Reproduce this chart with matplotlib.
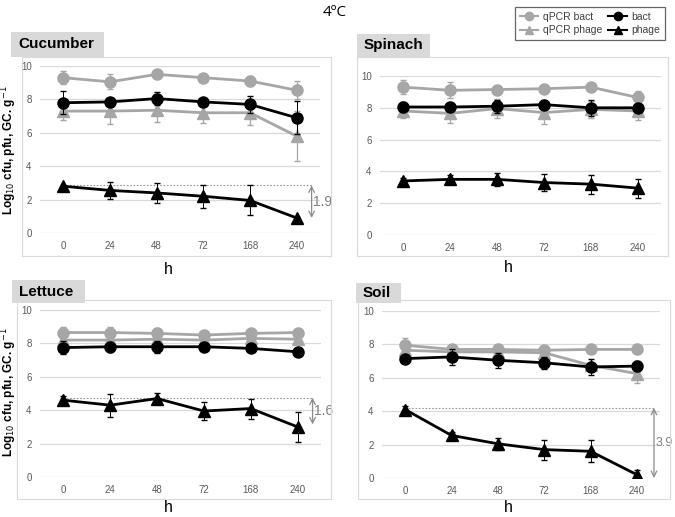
import matplotlib
matplotlib.use("Agg")
import matplotlib.pyplot as plt
from matplotlib.patches import Rectangle
from matplotlib.lines import Line2D

plt.rcParams['font.family'] = ['Liberation Sans', 'DejaVu Sans']

hours = ["0", "24", "48", "72", "168", "240"]
yticks = [0, 2, 4, 6, 8, 10]

# Cucumber
cuc_qbact = [9.3, 9.05, 9.5, 9.3, 9.1, 8.55]
cuc_qbact_err = [0.4, 0.45, 0.1, 0.1, 0.3, 0.55]
cuc_bact = [7.8, 7.85, 8.05, 7.85, 7.7, 6.9]
cuc_bact_err = [0.7, 0.25, 0.4, 0.15, 0.5, 1.0]
cuc_qphage = [7.3, 7.3, 7.35, 7.2, 7.2, 5.8]
cuc_qphage_err = [0.55, 0.8, 0.7, 0.6, 0.75, 1.5]
cuc_phage = [2.8, 2.55, 2.4, 2.2, 1.95, 0.9]
cuc_phage_err = [0.1, 0.5, 0.6, 0.7, 0.9, 0.05]

# Spinach
spi_qbact = [9.3, 9.1, 9.15, 9.2, 9.3, 8.65]
spi_qbact_err = [0.45, 0.5, 0.1, 0.1, 0.1, 0.4]
spi_bact = [8.05, 8.05, 8.1, 8.2, 8.0, 8.0]
spi_bact_err = [0.3, 0.1, 0.4, 0.3, 0.5, 0.2]
spi_qphage = [7.8, 7.65, 7.95, 7.7, 7.9, 7.8]
spi_qphage_err = [0.45, 0.6, 0.6, 0.7, 0.55, 0.55]
spi_phage = [3.4, 3.5, 3.5, 3.3, 3.2, 2.95]
spi_phage_err = [0.2, 0.3, 0.4, 0.55, 0.6, 0.6]

# Lettuce
let_qbact = [8.65, 8.65, 8.6, 8.5, 8.6, 8.65]
let_qbact_err = [0.35, 0.35, 0.3, 0.1, 0.1, 0.1]
let_bact = [7.75, 7.8, 7.8, 7.8, 7.7, 7.5]
let_bact_err = [0.4, 0.3, 0.35, 0.25, 0.1, 0.1]
let_qphage = [8.2, 8.2, 8.25, 8.2, 8.3, 8.25]
let_qphage_err = [0.1, 0.1, 0.1, 0.1, 0.1, 0.1]
let_phage = [4.6, 4.3, 4.7, 3.95, 4.1, 3.0]
let_phage_err = [0.25, 0.7, 0.35, 0.55, 0.6, 0.9]

# Soil
soi_qbact = [7.95, 7.7, 7.7, 7.65, 7.7, 7.7]
soi_qbact_err = [0.45, 0.1, 0.1, 0.1, 0.1, 0.1]
soi_bact = [7.15, 7.25, 7.05, 6.9, 6.65, 6.7]
soi_bact_err = [0.2, 0.5, 0.45, 0.35, 0.5, 0.3]
soi_qphage = [7.65, 7.55, 7.55, 7.5, 6.75, 6.25]
soi_qphage_err = [0.1, 0.1, 0.1, 0.1, 0.1, 0.55]
soi_phage = [4.1, 2.55, 2.05, 1.7, 1.6, 0.2]
soi_phage_err = [0.2, 0.2, 0.35, 0.6, 0.65, 0.3]

# drop annotations: (start level, end level, label)
cuc_drop = (2.85, 0.9, "1.9")
let_drop = (4.75, 3.15, "1.6")
soi_drop = (4.2, 0.0, "3.9")

W, H = 675, 517
GRAY = "#A6A6A6"

fig = plt.figure(figsize=(W / 100, H / 100), dpi=100)


def fbox(l, t, r, b):
    return [l / W, 1 - b / H, (r - l) / W, (b - t) / H]


def panel(title, plot_px, area_px, title_px, data, drop=None, arrow_x=5.33,
          lab_size=10):
    l, t, r, b = area_px
    fig.patches.append(Rectangle((l / W, 1 - b / H), (r - l) / W, (b - t) / H,
                                 transform=fig.transFigure, fill=False,
                                 edgecolor="#D9D9D9", linewidth=0.8))
    tl, tt, tr, tb = title_px
    fig.patches.append(Rectangle((tl / W, 1 - tb / H), (tr - tl) / W, (tb - tt) / H,
                                 transform=fig.transFigure, facecolor="#D9D9D9",
                                 edgecolor="none"))
    fig.text((tl + 7) / W, 1 - ((tt + tb) / 2) / H, title, fontsize=11,
             fontweight="bold", ha="left", va="center", color="black")

    ax = fig.add_axes(fbox(*plot_px))
    x = list(range(len(hours)))
    (qb, qbe), (bb, bbe), (qp, qpe), (pp, ppe) = data
    ax.errorbar(x, qb, yerr=qbe, color=GRAY, marker="o", markersize=8,
                linewidth=2, ecolor=GRAY, elinewidth=0.9, capsize=2.5, zorder=3)
    ax.errorbar(x, qp, yerr=qpe, color=GRAY, marker="^", markersize=8,
                linewidth=2, ecolor=GRAY, elinewidth=0.9, capsize=2.5, zorder=3)
    ax.errorbar(x, bb, yerr=bbe, color="black", marker="o", markersize=8,
                linewidth=2, ecolor="black", elinewidth=0.7, capsize=2.5, zorder=4)
    ax.errorbar(x, pp, yerr=ppe, color="black", marker="^", markersize=8,
                linewidth=2, ecolor="black", elinewidth=0.7, capsize=2.5, zorder=4)

    if drop is not None:
        top, bot, lab = drop
        ax.plot([0, arrow_x], [top, top], color="#999999", linestyle=(0, (1.5, 1.5)),
                linewidth=0.8, zorder=2, clip_on=False)
        ax.annotate("", xy=(arrow_x, bot), xytext=(arrow_x, top),
                    arrowprops=dict(arrowstyle="<->", color="#8C8C8C",
                                    linewidth=0.9, shrinkA=0, shrinkB=0),
                    annotation_clip=False)
        ax.text(arrow_x + 0.04, (top + bot) / 2, lab, fontsize=lab_size,
                color="#7F7F7F", ha="left", va="center", clip_on=False)

    ax.set_xlim(-0.5, 5.5)
    ax.set_ylim(0, 10)
    ax.set_yticks(yticks)
    ax.set_xticks(x)
    ax.set_xticklabels(hours)
    ax.tick_params(axis="both", length=0, labelsize=7, labelcolor="#595959",
                   pad=6)
    ax.grid(axis="y", color="#D9D9D9", linewidth=0.9)
    ax.set_axisbelow(True)
    for s in ax.spines.values():
        s.set_visible(False)
    ax.patch.set_alpha(0)
    return ax


panel("Cucumber", (40, 66, 320, 233), (22, 57, 331, 256), (11, 32, 104, 57),
      [(cuc_qbact, cuc_qbact_err), (cuc_bact, cuc_bact_err),
       (cuc_qphage, cuc_qphage_err), (cuc_phage, cuc_phage_err)],
      drop=cuc_drop, arrow_x=5.32)
panel("Spinach", (380, 76, 661, 235), (357, 57, 668, 256), (357, 34, 430, 57),
      [(spi_qbact, spi_qbact_err), (spi_bact, spi_bact_err),
       (spi_qphage, spi_qphage_err), (spi_phage, spi_phage_err)])
panel("Lettuce", (40, 310, 321, 477), (17, 300, 331, 499), (12, 280, 85, 303),
      [(let_qbact, let_qbact_err), (let_bact, let_bact_err),
       (let_qphage, let_qphage_err), (let_phage, let_phage_err)],
      drop=let_drop, arrow_x=5.32)
panel("Soil", (382, 311, 660, 478), (358, 300, 670, 499), (356, 283, 401, 303),
      [(soi_qbact, soi_qbact_err), (soi_bact, soi_bact_err),
       (soi_qphage, soi_qphage_err), (soi_phage, soi_phage_err)],
      drop=soi_drop, arrow_x=5.37, lab_size=9)

for xp, yp in [(168, 270), (508, 268), (168, 508), (508, 508)]:
    fig.text(xp / W, 1 - yp / H, "h", fontsize=11.5, ha="center", va="center")

ylab = r"Log$_{10}$ cfu, pfu, GC. g$^{-1}$"
for yp in [150, 392]:
    fig.text(9 / W, 1 - yp / H, ylab, rotation=90, fontsize=8.5,
             fontweight="bold", ha="center", va="center")

fig.text(335 / W, 1 - 12 / H, "4ºC", fontsize=11, ha="center", va="center",
         family=["Open Sans", "DejaVu Sans"])

handles = [
    Line2D([], [], color=GRAY, marker="o", markersize=6, linewidth=1.5),
    Line2D([], [], color=GRAY, marker="^", markersize=6, linewidth=1.5),
    Line2D([], [], color="black", marker="o", markersize=6, linewidth=1.5),
    Line2D([], [], color="black", marker="^", markersize=6, linewidth=1.5),
]
labels = ["qPCR bact", "qPCR phage", "bact", "phage"]
leg = fig.legend(handles, labels, ncol=2, loc="upper left",
                 bbox_to_anchor=(515 / W, 1 - 7 / H), fontsize=7.5,
                 frameon=True, fancybox=False, handlelength=1.8,
                 handletextpad=0.4, columnspacing=0.6, labelspacing=0.35,
                 borderpad=0.45, borderaxespad=0)
leg.get_frame().set_edgecolor("#404040")
leg.get_frame().set_linewidth(0.9)
for t in leg.get_texts():
    t.set_color("#404040")

fig.savefig("out.png", dpi=100)
